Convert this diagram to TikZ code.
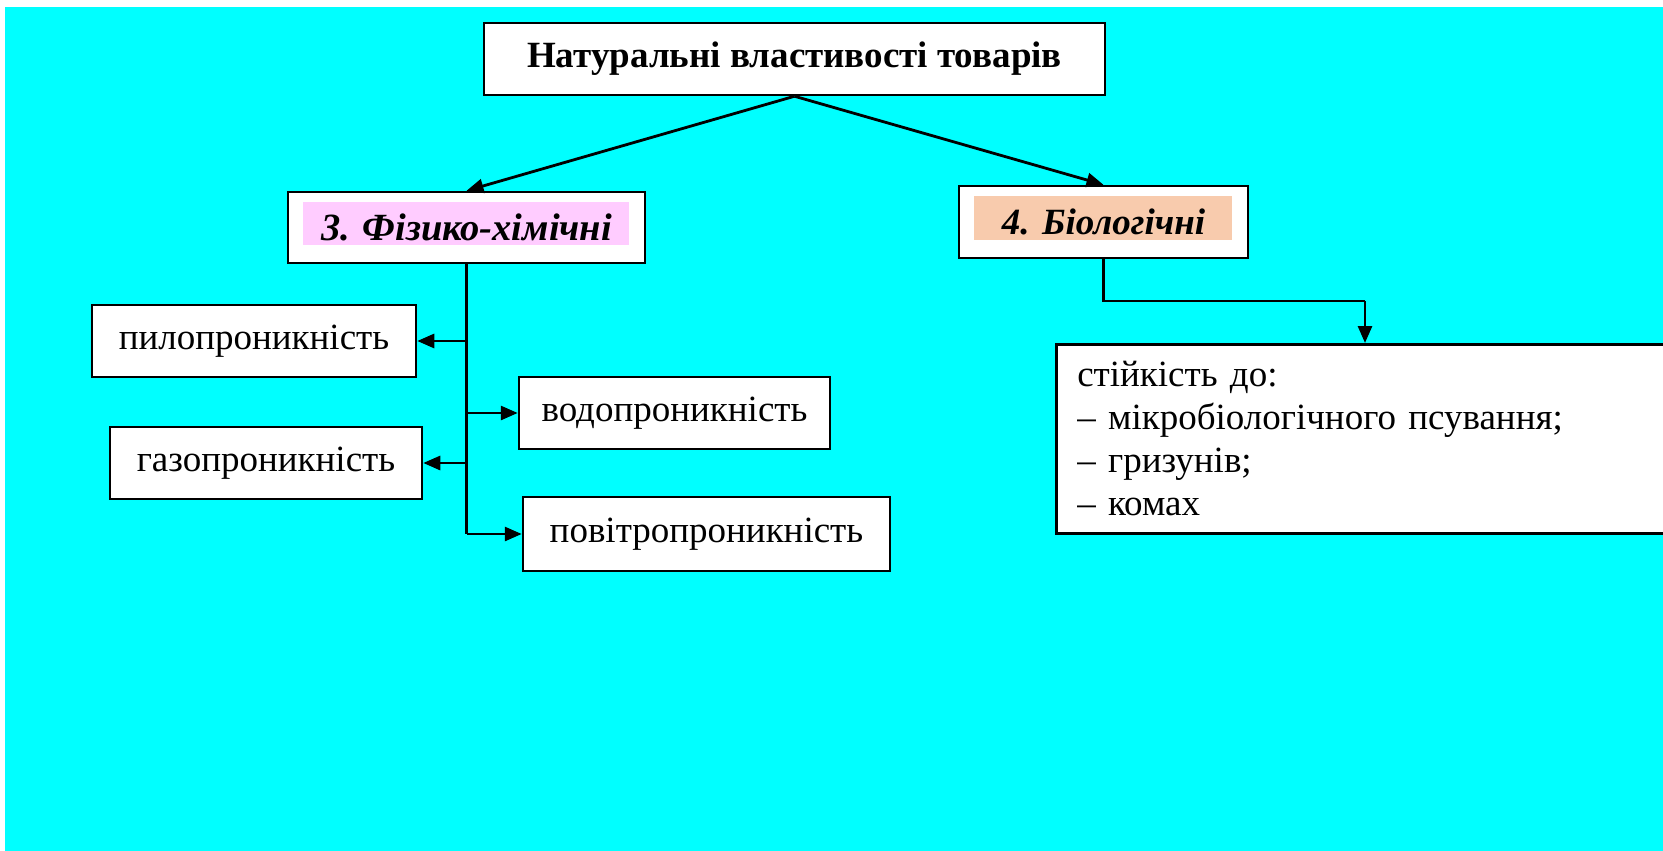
\documentclass[tikz,border=0pt]{standalone}
\usepackage{fontspec}
\setmainfont{Liberation Serif}
\usetikzlibrary{arrows.meta}
\definecolor{bgcyan}{HTML}{00FFFF}
\definecolor{pinkfill}{HTML}{FFCCFF}
\definecolor{peachfill}{HTML}{F8CBAD}
\begin{document}
\begin{tikzpicture}[x=1pt,y=-1pt,
  box/.style={draw=black, line width=2.5pt, fill=white, inner sep=0pt,
    font=\fontsize{37}{43}\selectfont},
  conn/.style={draw=black, line width=2.8pt},
  arr/.style={conn, -{Triangle[length=17pt,width=14pt]}},
  hl/.style 2 args={path picture={\fill[#1]
    ([xshift=15pt,yshift=-10pt]path picture bounding box.north west) rectangle
    ([xshift=-16pt,yshift=#2]path picture bounding box.south east);}}
]
\useasboundingbox (0,0) rectangle (1663,851);
\fill[white] (0,0) rectangle (1663,851);
\fill[bgcyan] (5,7) rectangle (1663,851);

% title
\node[box, minimum width=621pt, minimum height=72pt, font=\fontsize{37}{43}\selectfont\bfseries]
  (t) at (794.5,59) {Натуральні властивості товарів};

% two groups
\node[box, minimum width=357pt, minimum height=71pt, hl={pinkfill}{18pt},
  font=\fontsize{38.5}{43}\selectfont\bfseries\itshape]
  (b3) at (466.5,227.5) {3. Фізико-хімічні};
\node[box, minimum width=289pt, minimum height=72pt, hl={peachfill}{18pt},
  font=\fontsize{37}{43}\selectfont\bfseries\itshape]
  (b4) at (1103.5,222) {4. Біологічні};

% physical-chemical properties
\node[box, minimum width=324pt, minimum height=72pt] (p1) at (254,341) {пилопроникність};
\node[box, minimum width=311pt, minimum height=72pt] (p2) at (674.5,413) {водопроникність};
\node[box, minimum width=312pt, minimum height=72pt] (p3) at (266,463) {газопроникність};
\node[box, minimum width=367pt, minimum height=74pt] (p4) at (706.5,534) {повітропроникність};

% biological properties
\node[box, anchor=north west, minimum height=189pt, text width=600pt, align=left,
  inner xsep=21pt] (b5) at (1055,343)
  {стійкість до:\\– мікробіологічного псування;\\– гризунів;\\– комах};

% connectors
\draw[arr] (t.south) -- (b3.north);
\draw[arr] (t.south) -- (b4.north);

\draw[conn] (b3.south) -- (b3.south |- p4.west);
\draw[arr] (b3.south |- p1.east) -- (p1.east);
\draw[arr] (b3.south |- p2.west) -- (p2.west);
\draw[arr] (b3.south |- p3.east) -- (p3.east);
\draw[arr] (b3.south |- p4.west) -- (p4.west);

\coordinate (k) at (1365,301);
\draw[conn] (b4.south) |- (k);
\draw[arr] (k) -- (k |- b5.north);
\end{tikzpicture}
\end{document}
